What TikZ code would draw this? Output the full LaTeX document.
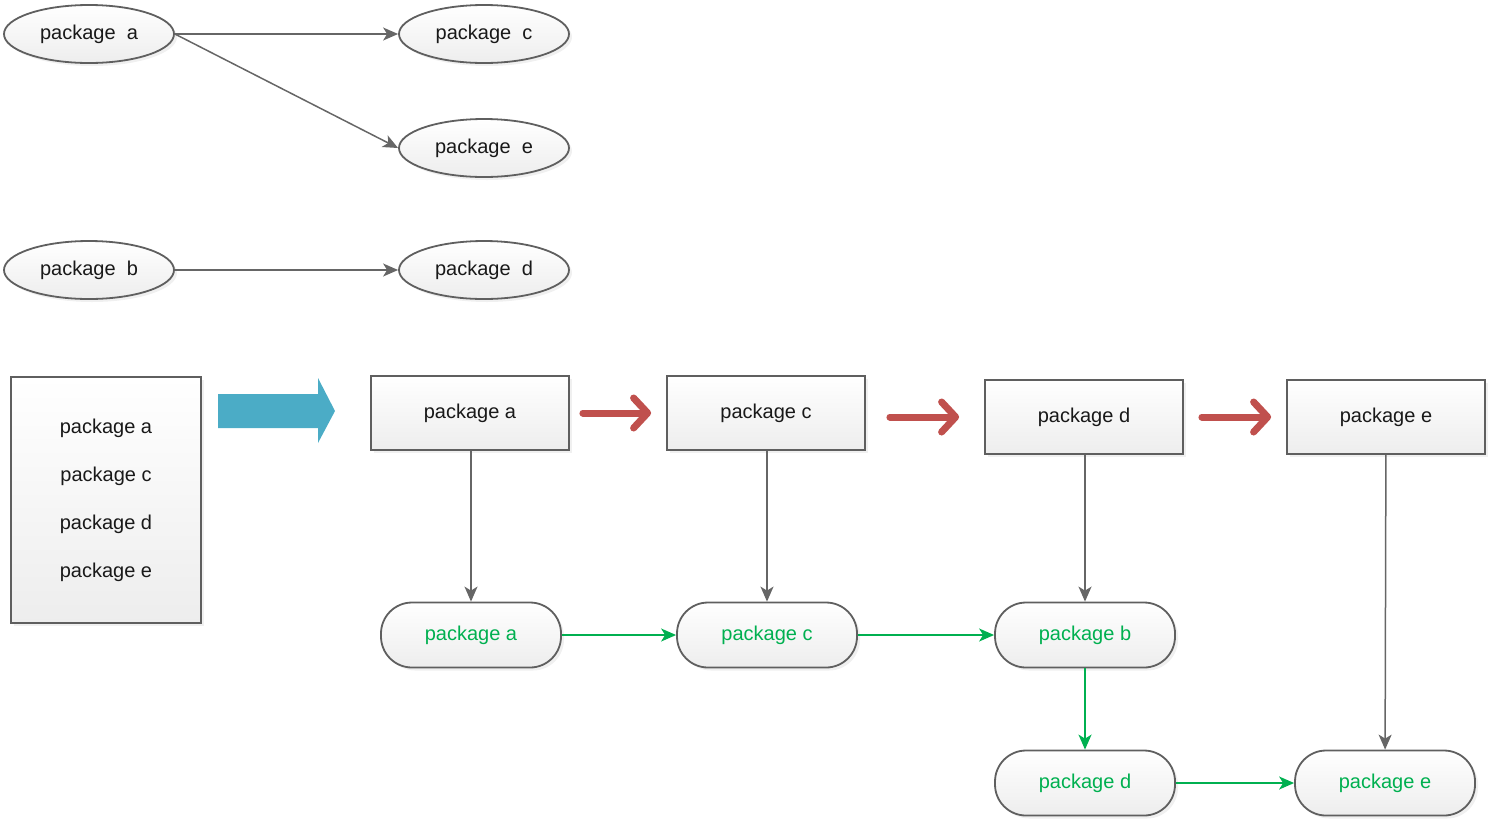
\documentclass[tikz,border=0pt]{standalone}
\usepackage{fontspec}
\setmainfont{Liberation Sans}
\usetikzlibrary{arrows.meta,shapes.geometric,shadows}
\definecolor{linegray}{HTML}{666666}
\definecolor{boxgray}{HTML}{5F5F5F}
\definecolor{pkgblue}{HTML}{4BACC6}
\definecolor{pkgred}{HTML}{C0504D}
\definecolor{pkggreen}{HTML}{00B050}
\begin{document}
\begin{tikzpicture}[x=1pt,y=-1pt,
		every node/.style={inner sep=0pt,font=\fontsize{20}{24}\selectfont,text=black!90},
		pkgshade/.style={draw=boxgray,line width=1.8pt,top color=white,bottom color=black!7,
			drop shadow={shadow xshift=3pt,shadow yshift=-3pt,opacity=0.12}},
		dep/.style={pkgshade,ellipse,minimum width=170pt,minimum height=58pt},
		stepbox/.style={pkgshade,rectangle,minimum width=198pt,minimum height=74pt},
		runbox/.style={pkgshade,rectangle,rounded corners=31pt,minimum width=180pt,minimum height=65pt,text=pkggreen},
		gline/.style={draw=linegray,line width=1.5pt,-{Stealth[length=15pt,width=13pt,inset=4pt]}},
		gstep/.style={draw=pkggreen,line width=1.5pt,-{Stealth[length=15pt,width=13pt,inset=4pt]}},
		redarrow/.style={draw=pkgred,line width=7pt,line cap=round,-{Straight Barb[length=14pt,width=30pt,round]}}]
		\useasboundingbox (0,0) rectangle (1490,820);
		% dependencies
		\node [dep] (topa) at (89,34) {package\ \ a};
		\node [dep] (topc) at (484,34) {package\ \ c};
		\node [dep] (tope) at (484,148) {package\ \ e};
		\node [dep] (topb) at (89,270) {package\ \ b};
		\node [dep] (topd) at (484,270) {package\ \ d};
		\draw [gline] (topa.east) -- (topc.west);
		\draw [gline] (topa.east) -- (tope.west);
		\draw [gline] (topb) -- (topd);
		% order
		\node [pkgshade,rectangle,minimum width=190pt,minimum height=246pt,align=center,
			font=\fontsize{20}{48}\selectfont] (order) at (106,500)
			{package a\\package c\\package d\\package e};
		\fill [pkgblue] (218,394) -- (318,394) -- (318,378) -- (335,411) -- (318,443) -- (318,428) -- (218,428) -- cycle;
		% steps
		\node [stepbox] (stepa) at (470,413) {package a};
		\node [stepbox] (stepc) at (766,413) {package c};
		\node [stepbox] (stepd) at (1084,417) {package d};
		\node [stepbox] (stepe) at (1386,417) {package e};
		\draw [redarrow,shorten <=13pt,shorten >=15pt] (stepa.east) -- (stepc.west);
		\draw [redarrow,shorten <=24pt,shorten >=25pt] (stepc.east |- stepd.west) -- (stepd.west);
		\draw [redarrow,shorten <=18pt,shorten >=15pt] (stepd.east) -- (stepe.west);
		% run
		\node [runbox] (runa) at (471,635) {package a};
		\node [runbox] (runc) at (767,635) {package c};
		\node [runbox] (runb) at (1085,635) {package b};
		\node [runbox] (rund) at (1085,783) {package d};
		\node [runbox] (rune) at (1385,783) {package e};
		\draw [gline] (stepa.south -| runa) -- (runa);
		\draw [gline] (stepc.south -| runc) -- (runc);
		\draw [gline] (stepd.south -| runb) -- (runb.north);
		\draw [gline] (stepe) -- (rune);
		\draw [gstep] (runa) -- (runc);
		\draw [gstep] (runc) -- (runb);
		\draw [gstep] (runb) -- (rund);
		\draw [gstep] (rund) -- (rune);
	\end{tikzpicture}
\end{document}
